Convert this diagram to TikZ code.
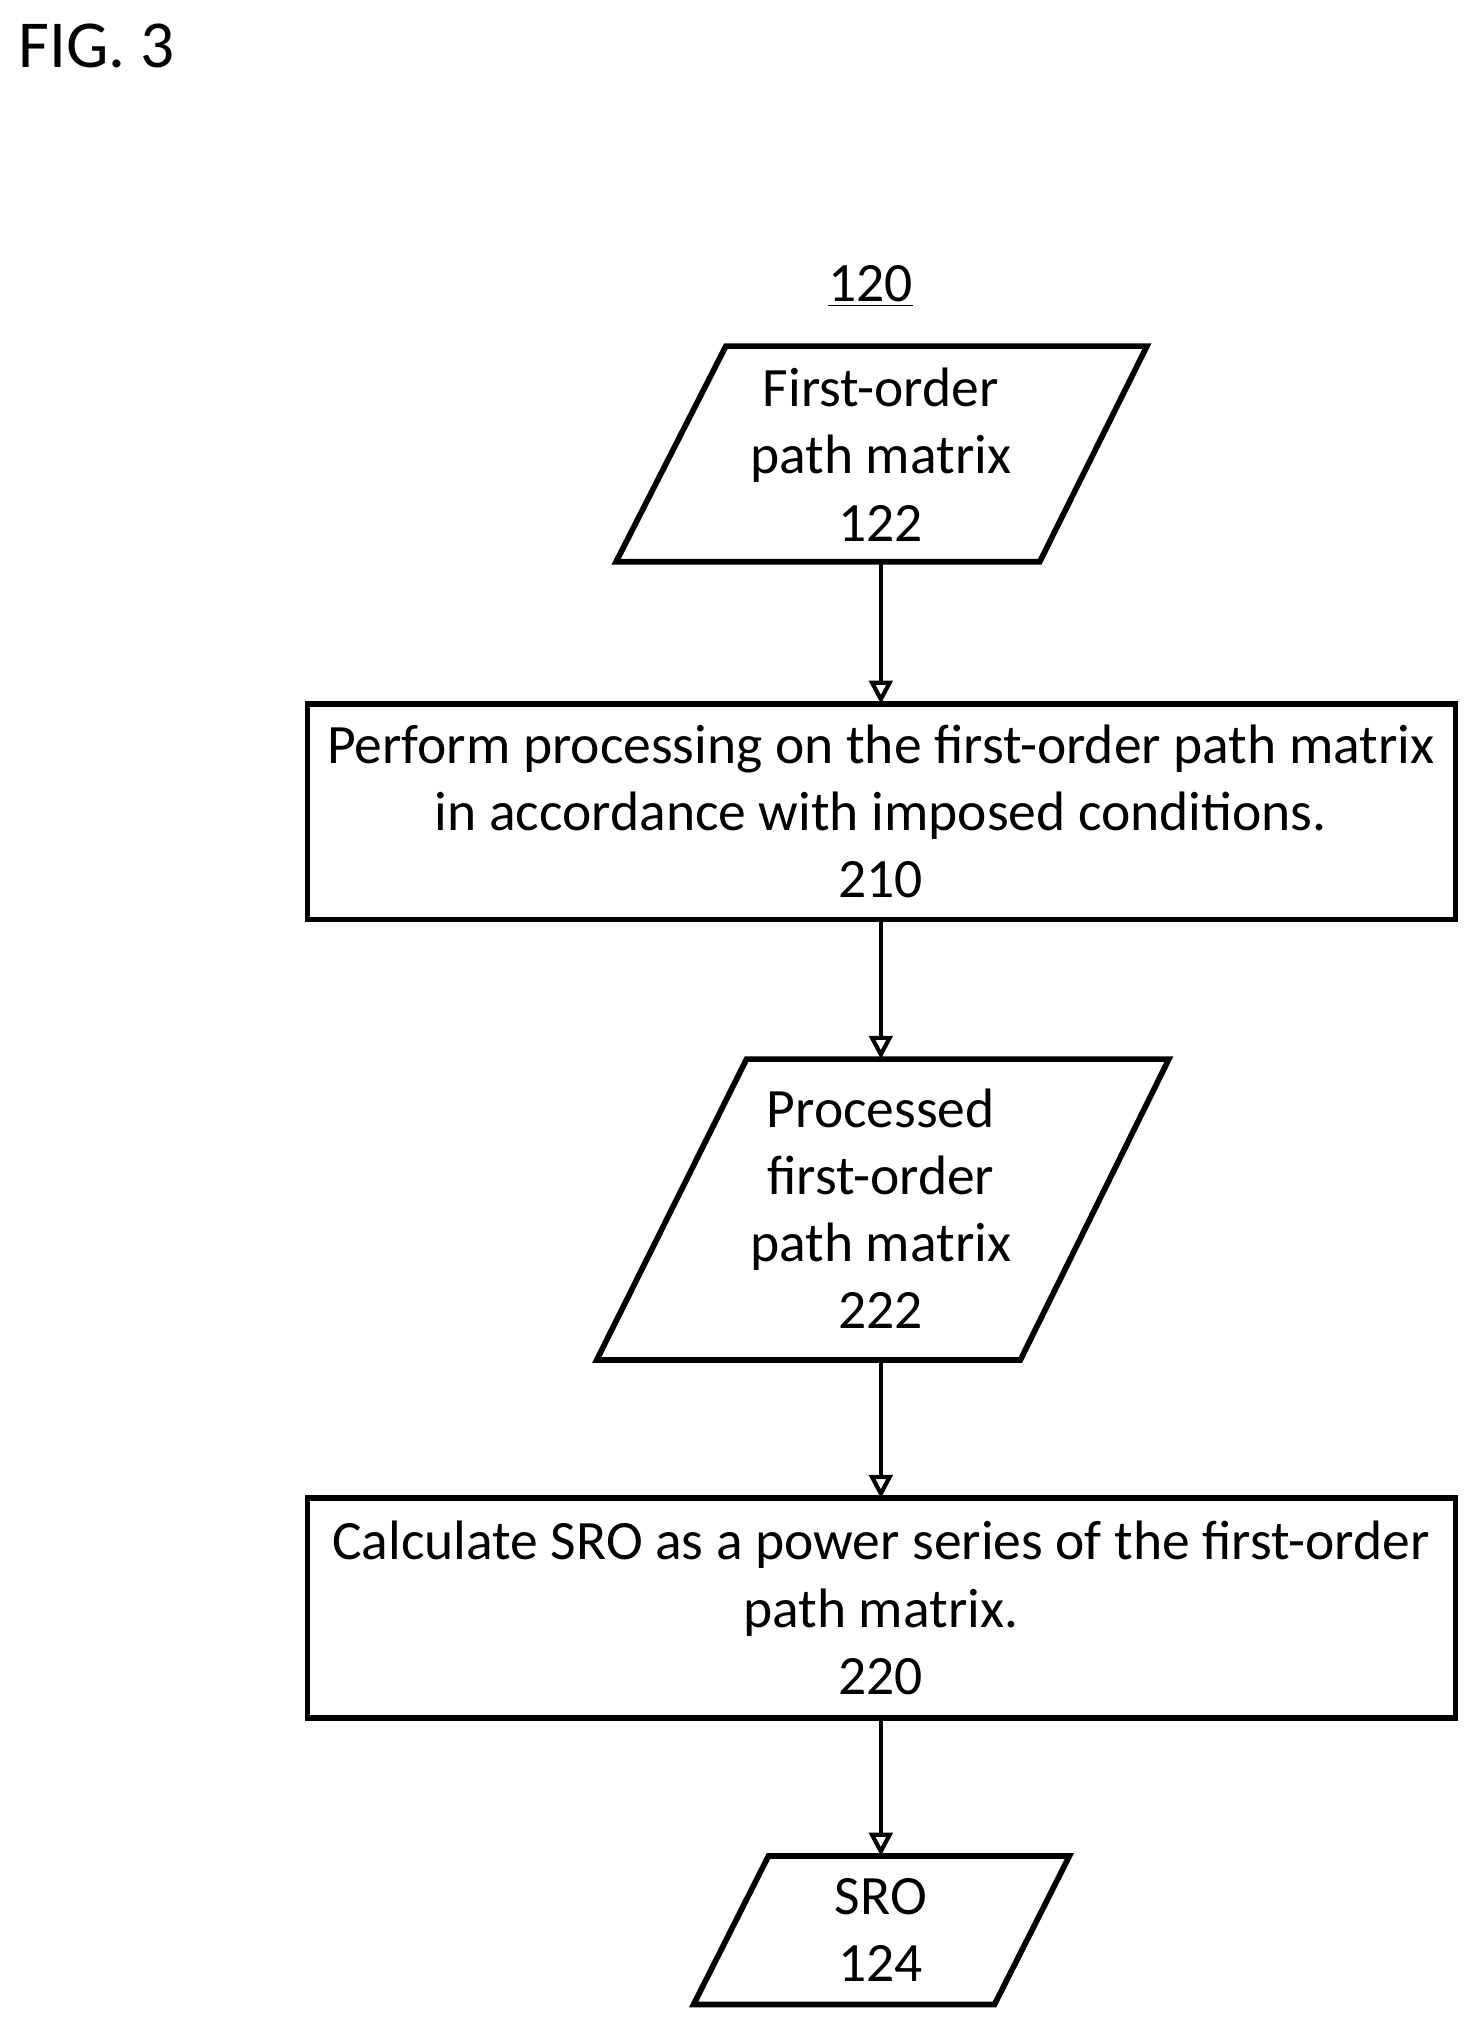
\documentclass[tikz,border=0pt]{standalone}
\usepackage{fontspec}
\setmainfont{Carlito}
\usetikzlibrary{arrows.meta}
\begin{document}
\begin{tikzpicture}[x=0.5pt,y=-0.5pt,
  shp/.style={draw=black,line width=2.2,line join=miter},
  txt/.style={align=center,font=\fontsize{21.5}{26}\selectfont,inner sep=0},
  arr/.style={draw=black,line width=1.6,-{Triangle[open,length=9,width=9]}}]
\useasboundingbox (0,0) rectangle (1140,1564);
\node[anchor=base west,inner sep=0,font=\fontsize{26}{30}\selectfont] (fig) at (14,52) {FIG. 3};
\node[txt] (lab) at (674,222) {\underline{120}};
% P1
\draw[shp] (562,268) -- (888,268) -- (805,435) -- (477,435) -- cycle;
\coordinate (p1b) at (682,435);
\node[txt] (t1) at (682,352) {First-order\\path matrix\\122};
% Box 210
\draw[shp] (238,545) rectangle (1127,712);
\coordinate (b1t) at (682,545); \coordinate (b1b) at (682,712);
\node[txt] (t2) at (682,628) {Perform processing on the first-order path matrix\\in accordance with imposed conditions.\\210};
% P2
\draw[shp] (578,820) -- (905,820) -- (790,1053) -- (462,1053) -- cycle;
\coordinate (p2t) at (682,820); \coordinate (p2b) at (682,1053);
\node[txt] (t3) at (682,936) {Processed\\first-order\\path matrix\\222};
% Box 220
\draw[shp] (238,1160) rectangle (1127,1330);
\coordinate (b2t) at (682,1160); \coordinate (b2b) at (682,1330);
\node[txt] (t4) at (682,1245) {Calculate SRO as a power series of the first-order\\path matrix.\\220};
% P3
\draw[shp] (595,1437) -- (828,1437) -- (770,1552) -- (537,1552) -- cycle;
\coordinate (p3t) at (682,1437);
\node[txt] (t5) at (682,1494) {SRO\\124};
\draw[arr] (p1b) -- (b1t);
\draw[arr] (b1b) -- (p2t);
\draw[arr] (p2b) -- (b2t);
\draw[arr] (b2b) -- (p3t);
\end{tikzpicture}
\end{document}
